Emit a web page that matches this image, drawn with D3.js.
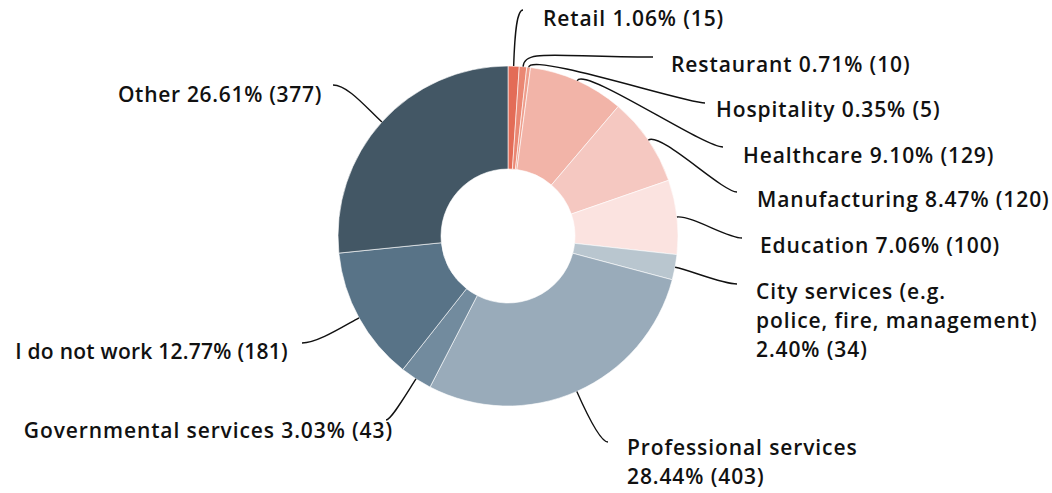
<!DOCTYPE html>
<html>
<head>
<meta charset="utf-8">
<script src="https://cdn.jsdelivr.net/npm/d3@7"></script>
<style>
  body { margin: 0; background: #fff; }
  svg { display: block; }
</style>
</head>
<body>
<div id="chart"></div>
<script>
// values
const categories = [
  "Retail", "Restaurant", "Hospitality", "Healthcare", "Manufacturing", "Education",
  "City services (e.g. police, fire, management)", "Professional services",
  "Governmental services", "I do not work", "Other"
];
const counts = [15, 10, 5, 129, 120, 100, 34, 403, 43, 181, 377];
const colors = [
  "#e36c57", "#ea8773", "#ee9d8b", "#f2b4a8", "#f5c8c1", "#fbe3e0",
  "#b9c6cf", "#99abba", "#728b9e", "#587387", "#435765"
];
// how long labels are broken into lines (stat goes on its own line)
const nameLines = {
  "City services (e.g. police, fire, management)": ["City services (e.g.", "police, fire, management)"],
  "Professional services": ["Professional services"]
};

// label placement: text anchor position, leader end point, curve handles
const layout = [
  { x: 543, y: 26,  anchor: "start", ex: 523, ey: 10,  k1: 35, k2: 6 },
  { x: 671, y: 72,  anchor: "start", ex: 653, ey: 57,  k1: 18, k2: 100 },
  { x: 716, y: 117, anchor: "start", ex: 705, ey: 103, k1: 15, k2: 20 },
  { x: 743, y: 163, anchor: "start", ex: 723, ey: 147, k1: 16, k2: 20 },
  { x: 757, y: 207, anchor: "start", ex: 737, ey: 192, k1: 15, k2: 15 },
  { x: 760, y: 253, anchor: "start", ex: 742, ey: 238, k1: 15, k2: 15 },
  { x: 756, y: 299, anchor: "start", ex: 737, ey: 284, k1: 15, k2: 15 },
  { x: 627, y: 455, anchor: "start", ex: 608, ey: 442, k1: 20, k2: 8 },
  { x: 393, y: 438, anchor: "end",   ex: 386, ey: 420, k1: 20, k2: 5 },
  { x: 288, y: 359, anchor: "end",   ex: 302, ey: 343, k1: 20, k2: 15, ls: 0.25 },
  { x: 322, y: 102, anchor: "end",   ex: 333, ey: 85,  k1: 20, k2: 15, ls: 0.7 }
];

const width = 1052, height = 493;
const cx = 508, cy = 236;
const outerR = 170, innerR = 67;
const lineHeight = 29;

const total = d3.sum(counts);
const data = categories.map((c, i) => ({ name: c, n: counts[i], color: colors[i], lay: layout[i] }));

const pie = d3.pie().value(d => d.n).sort(null);
const arcs = pie(data);
const arc = d3.arc().innerRadius(innerR).outerRadius(outerR);

const svg = d3.select("#chart")
  .append("svg")
  .attr("width", width)
  .attr("height", height)
  .attr("viewBox", [0, 0, width, height]);

const g = svg.append("g")
  .attr("transform", `translate(${cx},${cy})`);

g.selectAll("path.slice")
  .data(arcs)
  .join("path")
  .attr("class", "slice")
  .attr("d", arc)
  .attr("fill", d => d.data.color)
  .attr("stroke", "#fff")
  .attr("stroke-width", 0.6);

// leader lines
function leader(d) {
  const a = (d.startAngle + d.endAngle) / 2;
  const ux = Math.sin(a), uy = -Math.cos(a);
  const L = d.data.lay;
  const sx = cx + ux * outerR, sy = cy + uy * outerR;
  const dir = L.anchor === "start" ? 1 : -1;
  const p = d3.path();
  p.moveTo(sx, sy);
  p.bezierCurveTo(sx + ux * L.k1, sy + uy * L.k1, L.ex - dir * L.k2, L.ey, L.ex, L.ey);
  return p.toString();
}

svg.append("g")
  .attr("fill", "none")
  .attr("stroke", "#111")
  .attr("stroke-width", 1.4)
  .selectAll("path")
  .data(arcs)
  .join("path")
  .attr("d", leader);

// labels
const fmt = d3.format(".2f");
const labels = svg.append("g")
  .attr("font-family", "'Open Sans', 'Noto Sans', sans-serif")
  .attr("font-weight", 600)
  .attr("font-size", 21)
  .attr("fill", "#111")
  .selectAll("text")
  .data(arcs)
  .join("text")
  .attr("letter-spacing", d => d.data.lay.ls ?? 0.9)
  .attr("text-anchor", d => d.data.lay.anchor)
  .attr("x", d => d.data.lay.x)
  .attr("y", d => d.data.lay.y);

labels.each(function (d) {
  const t = d3.select(this);
  const stat = `${fmt(d.data.n / total * 100)}% (${d.data.n})`;
  const lines = nameLines[d.data.name]
    ? [...nameLines[d.data.name], stat]
    : [`${d.data.name} ${stat}`];
  lines.forEach((s, i) => {
    t.append("tspan")
      .attr("x", d.data.lay.x)
      .attr("dy", i === 0 ? 0 : lineHeight)
      .text(s);
  });
});
</script>
</body>
</html>
